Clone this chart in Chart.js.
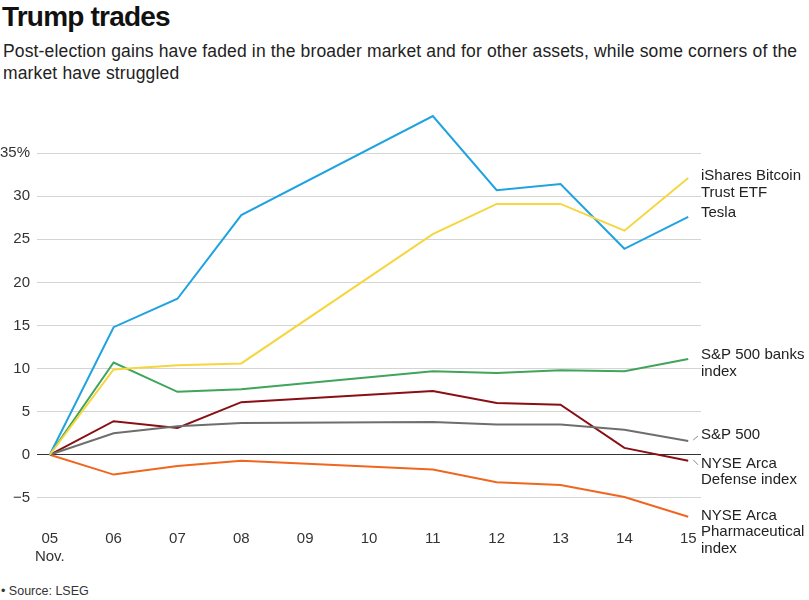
<!DOCTYPE html>
<html>
<head>
<meta charset="utf-8">
<script src="https://cdn.jsdelivr.net/npm/chart.js@4/dist/chart.umd.min.js"></script>
<style>
  body { margin: 0; background: #fff; font-family: "Liberation Sans", Arial, sans-serif; color: #222; }
  #wrap { position: relative; width: 809px; height: 600px; overflow: hidden; }
  #title { position: absolute; left: 2px; top: 1px; font-size: 28px; font-weight: bold; letter-spacing: -0.8px; color: #111; }
  #sub { position: absolute; left: 3px; top: 40px; width: 806px; font-size: 17.5px; letter-spacing: 0.15px; line-height: 22px; color: #222; }
  #chartBox { position: absolute; left: 0; top: 94px; width: 809px; height: 473px; }
  #source { position: absolute; left: 1px; top: 584px; font-size: 12.5px; color: #333; }
</style>
</head>
<body>
<div id="wrap">
  <div id="title">Trump trades</div>
  <div id="sub">Post-election gains have faded in the broader market and for other assets, while some corners of the market have struggled</div>
  <div id="chartBox"><canvas id="chartTrades"></canvas></div>
  <div id="source">• Source: LSEG</div>
</div>
<script>
// trading days in November (09 and 10 were the weekend)
const days = [5, 6, 7, 8, 11, 12, 13, 14, 15];
const xTicks = [5, 6, 7, 8, 9, 10, 11, 12, 13, 14, 15];
const yTicks = [-5, 0, 5, 10, 15, 20, 25, 30, 35];

// % change since Nov 5
const bitcoinEtf = [0, 9.9, 10.4, 10.6, 25.6, 29.1, 29.1, 26.0, 32.1];
const tesla      = [0, 14.8, 18.1, 27.8, 39.3, 30.7, 31.4, 23.9, 27.6];
const banks      = [0, 10.7, 7.3, 7.6, 9.7, 9.5, 9.8, 9.7, 11.1];
const sp500      = [0, 2.5, 3.3, 3.7, 3.8, 3.5, 3.5, 2.9, 1.6];
const defense    = [0, 3.9, 3.1, 6.1, 7.4, 6.0, 5.8, 0.8, -0.7];
const pharma     = [0, -2.3, -1.3, -0.7, -1.7, -3.2, -3.5, -4.9, -7.2];

const seriesNames = [
    ['iShares Bitcoin', 'Trust ETF'],
    ['Tesla'],
    ['S&P 500 banks', 'index'],
    ['S&P 500'],
    ['NYSE Arca', 'Defense index'],
    ['NYSE Arca', 'Pharmaceutical', 'index']
];

const toPoints = vals => vals.map((v, i) => ({ x: days[i], y: v }));

function makeSet(vals, color, labelLines, dy, leader) {
    return {
        data: toPoints(vals),
        borderColor: color,
        borderWidth: 2,
        pointRadius: 0,
        tension: 0,
        fill: false,
        labelLines: labelLines,
        labelDy: dy,
        leader: leader
    };
}

// end-of-line labels
const endLabels = {
    id: 'endLabels',
    afterDatasetsDraw(chart) {
        const c = chart.ctx;
        const yScale = chart.scales.y;
        const xScale = chart.scales.x;
        c.save();
        c.font = '15px "Liberation Sans", Arial, sans-serif';
        c.fillStyle = '#222';
        c.textBaseline = 'middle';
        c.textAlign = 'left';
        chart.data.datasets.forEach(ds => {
            const last = ds.data[ds.data.length - 1];
            const px = xScale.getPixelForValue(last.x);
            const py = yScale.getPixelForValue(last.y);
            const tx = chart.chartArea.right;
            const ty = py + ds.labelDy;
            if (ds.leader) {
                c.strokeStyle = '#888';
                c.lineWidth = 1;
                c.beginPath();
                c.moveTo(px + 5, py - 1);
                c.lineTo(tx - 3, ty + 1);
                c.stroke();
            }
            ds.labelLines.forEach((t, i) => c.fillText(t, tx, ty + i * 16.5));
        });
        c.restore();
    }
};

new Chart(document.getElementById('chartTrades'), {
    type: 'line',
    data: {
        datasets: [
            makeSet(bitcoinEtf, '#f6d63f', seriesNames[0], -2, false),
            makeSet(tesla, '#1fa3e0', seriesNames[1], -4, false),
            makeSet(banks, '#3ea55a', seriesNames[2], -4, false),
            makeSet(sp500, '#6e6e6e', seriesNames[3], -6, true),
            makeSet(defense, '#8a0f14', seriesNames[4], 3, true),
            makeSet(pharma, '#f0661f', seriesNames[5], -1, false)
        ]
    },
    options: {
        responsive: true,
        maintainAspectRatio: false,
        animation: false,
        layout: { padding: { top: 3, right: 108, left: 0, bottom: 0 } },
        plugins: {
            legend: { display: false },
            tooltip: { enabled: false }
        },
        scales: {
            x: {
                type: 'linear',
                min: 4.8,
                max: 15.2,
                afterBuildTicks: scale => { scale.ticks = xTicks.map(v => ({ value: v })); },
                afterFit: scale => { scale.height = 45; },
                grid: { display: false, drawTicks: false },
                border: { display: false },
                ticks: {
                    padding: 8,
                    color: '#333',
                    font: { size: 15, family: '"Liberation Sans", Arial, sans-serif' },
                    maxRotation: 0,
                    autoSkip: false,
                    callback: v => v === 5 ? ['05', 'Nov.'] : String(v).padStart(2, '0')
                }
            },
            y: {
                min: -7.8,
                max: 40,
                afterBuildTicks: scale => { scale.ticks = yTicks.map(v => ({ value: v })); },
                afterFit: scale => { scale.width = 37; },
                grid: {
                    drawTicks: false,
                    color: c => c.tick && c.tick.value === 0 ? '#333' : '#d4d4d4',
                    lineWidth: 1
                },
                border: { display: false },
                ticks: {
                    padding: 7,
                    color: '#333',
                    font: { size: 15, family: '"Liberation Sans", Arial, sans-serif' },
                    callback: v => v === 35 ? '35%' : (v < 0 ? '\u2212' + Math.abs(v) : String(v))
                }
            }
        }
    },
    plugins: [endLabels]
});
</script>
</body>
</html>
